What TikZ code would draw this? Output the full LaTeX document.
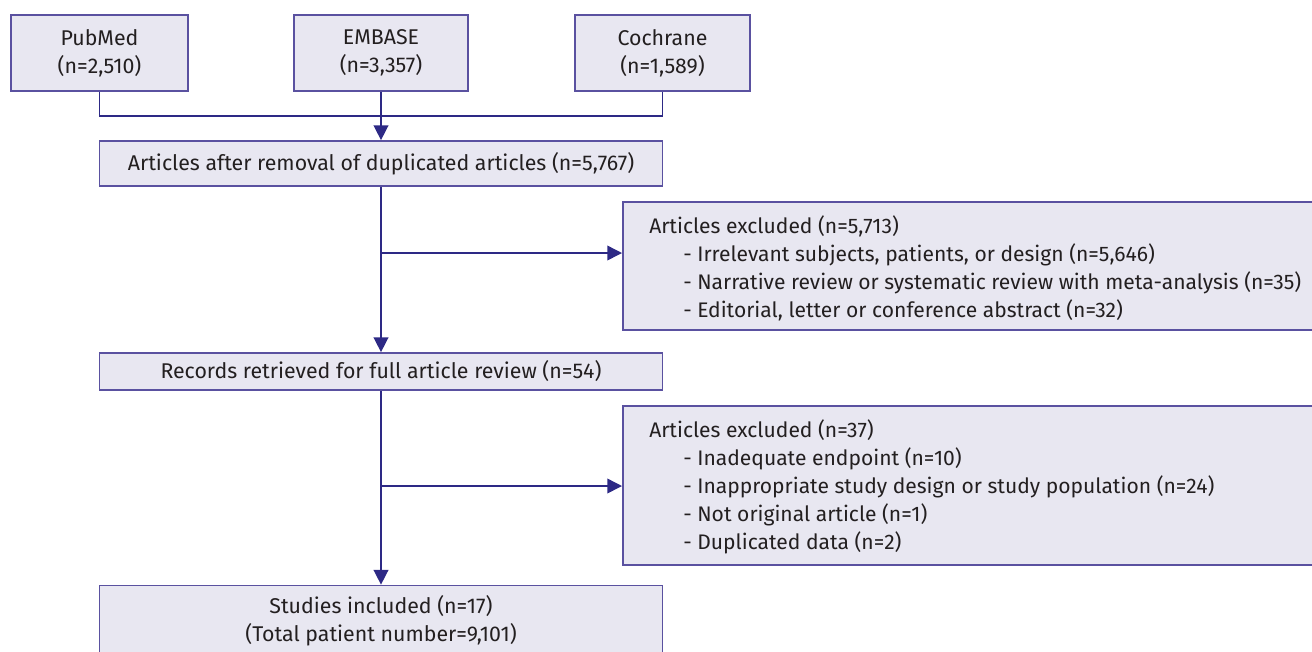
\documentclass[tikz,border=0pt]{standalone}
\usepackage{fontspec}
\setmainfont{Fira Sans}
\usepackage{xcolor}
\usetikzlibrary{arrows.meta}

\definecolor{boxfill}{HTML}{E8E7F1}
\definecolor{boxline}{HTML}{5A51A0}
\definecolor{linkline}{HTML}{2D2985}
\definecolor{txt}{HTML}{231F20}

\tikzset{
  box/.style={draw=boxline, fill=boxfill, line width=1.3pt, text=txt,
    font=\fontsize{16}{21}\selectfont, align=center, inner sep=0pt},
  listtext/.style={anchor=west, text=txt, font=\fontsize{15.8}{21}\selectfont,
    align=left, inner sep=0pt},
  link/.style={draw=linkline, line width=1.1pt},
  arrow/.style={link, -{Triangle[length=11pt,width=11pt]}}
}
\newcommand{\itemgap}{\hspace{25.5pt}}

\begin{document}
\begin{tikzpicture}[x=0.75pt,y=-0.75pt]
  \useasboundingbox (0,0) rectangle (1312,651);

  % sources
  \node[box, minimum width=177*0.75pt, minimum height=76*0.75pt] (pubmed) at (99.5,53) {PubMed\\(n=2,510)};
  \node[box, minimum width=174*0.75pt, minimum height=76*0.75pt] (embase) at (381,53) {EMBASE\\(n=3,357)};
  \node[box, minimum width=175*0.75pt, minimum height=76*0.75pt] (cochrane) at (662.5,53) {Cochrane\\(n=1,589)};

  % main column
  \node[box, minimum width=563*0.75pt, minimum height=45*0.75pt] (dedup) at (381,163.5) {Articles after removal of duplicated articles (n=5,767)};
  \node[box, minimum width=563*0.75pt, minimum height=37*0.75pt] (records) at (381,371.5) {Records retrieved for full article review (n=54)};
  \node[box, minimum width=563*0.75pt, minimum height=71*0.75pt] (studies) at (381,621) {Studies included (n=17)\\(Total patient number=9,101)};

  % exclusions
  \node[box, anchor=west, minimum width=691*0.75pt, minimum height=128*0.75pt] (excl1) at (622,266) {};
  \node[listtext] (excl1text) at (649,268)
    {Articles excluded (n=5,713)\\
     \itemgap- Irrelevant subjects, patients, or design (n=5,646)\\
     \itemgap- Narrative review or systematic review with meta-analysis (n=35)\\
     \itemgap- Editorial, letter or conference abstract (n=32)};
  \node[box, anchor=west, minimum width=691*0.75pt, minimum height=159*0.75pt] (excl2) at (622,485.5) {};
  \node[listtext] (excl2text) at (649,487)
    {Articles excluded (n=37)\\
     \itemgap- Inadequate endpoint (n=10)\\
     \itemgap- Inappropriate study design or study population (n=24)\\
     \itemgap- Not original article (n=1)\\
     \itemgap- Duplicated data (n=2)};

  % connectors
  \coordinate (join) at (381,116);
  \draw[link] (pubmed.south) |- (join) -| (cochrane.south);
  \draw[arrow] (embase.south) -- (dedup.north);
  \draw[arrow] (dedup.south) -- (records.north);
  \draw[arrow] (records.south) -- (studies.north);
  \coordinate (br1) at (381,253);
  \coordinate (br2) at (381,486);
  \draw[arrow] (br1) -- (br1 -| excl1.west);
  \draw[arrow] (br2) -- (br2 -| excl2.west);
\end{tikzpicture}
\end{document}
